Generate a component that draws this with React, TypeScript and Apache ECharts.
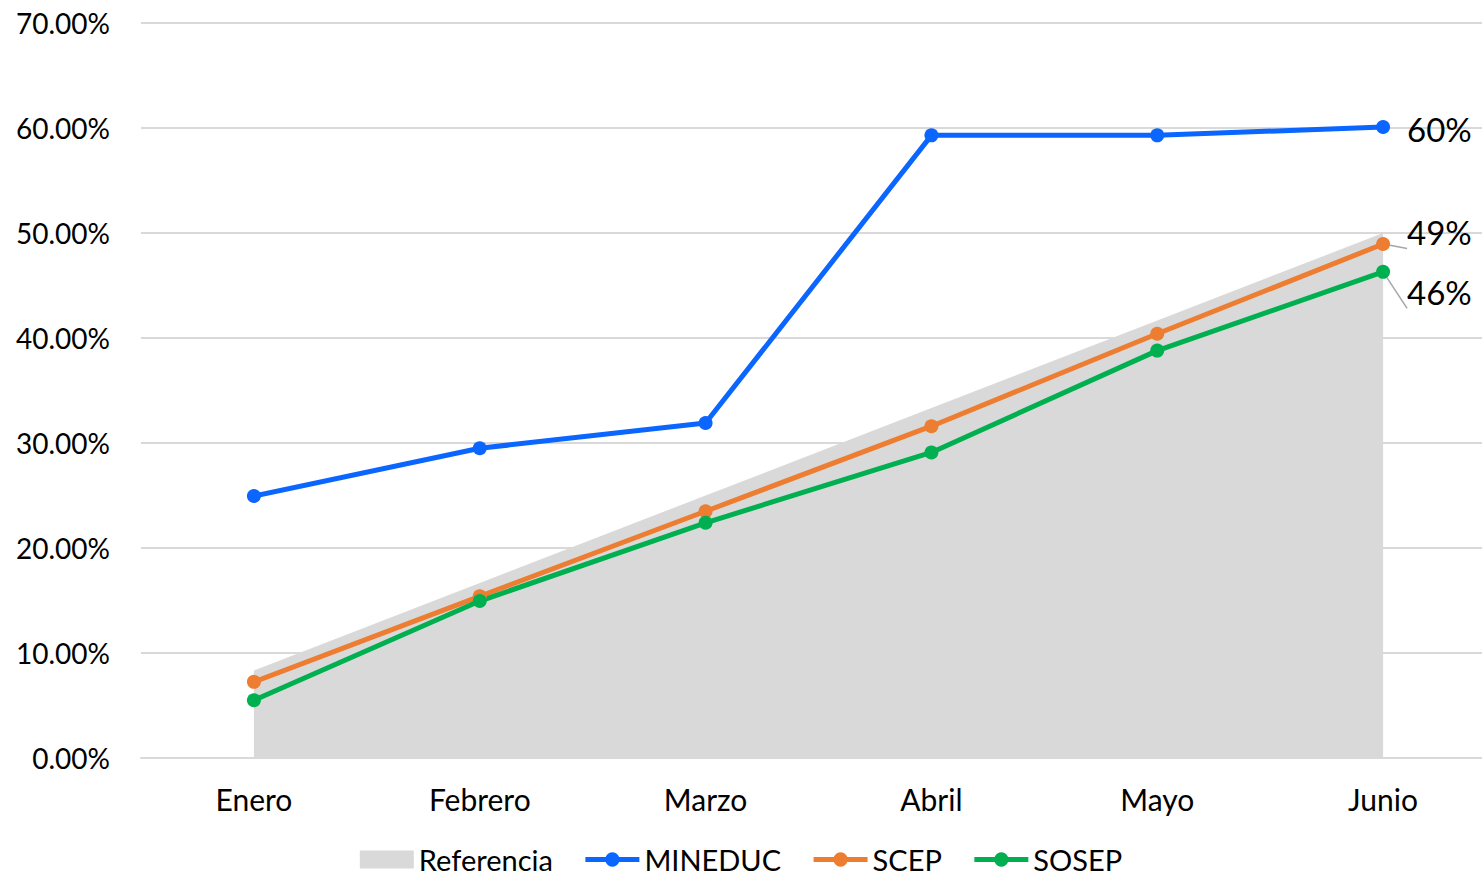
import React, { useEffect, useRef } from "react";
import * as echarts from "echarts";

const categories = ["Enero", "Febrero", "Marzo", "Abril", "Mayo", "Junio"];
const referencia = [8.33, 16.67, 25.0, 33.33, 41.67, 50.0];
const mineduc = [24.95, 29.5, 31.9, 59.3, 59.3, 60.1];
const scep = [7.25, 15.4, 23.5, 31.6, 40.4, 48.95];
const sosep = [5.5, 14.95, 22.4, 29.1, 38.8, 46.3];
const lastLabels = { mineduc: "60%", scep: "49%", sosep: "46%" };

const FONT = "Lato";

function withLastLabel(values: number[], text: string, dy: number) {
  return values.map((v, i) =>
    i === values.length - 1
      ? {
          value: v,
          label: {
            show: true,
            position: "right",
            distance: 17,
            formatter: text,
            fontSize: 33,
            fontFamily: FONT,
            color: "#000",
            offset: [0, dy],
          },
        }
      : v
  );
}

export default function App() {
  const ref = useRef<HTMLDivElement>(null);
  useEffect(() => {
    if (!ref.current) return;
    const chart = echarts.init(ref.current, null, { renderer: "svg" });
    const lineSeries = (name: string, color: string, data: any[]) => ({
      name,
      type: "line",
      data,
      symbol: "circle",
      symbolSize: 14,
      color,
      lineStyle: { width: 5, color },
      itemStyle: { color },
      z: 3,
    });
    chart.setOption({
      animation: false,
      grid: {
        left: 141,
        width: 1355,
        top: 23,
        bottom: 116,
        containLabel: false,
        outerBoundsMode: "none",
      },
      legend: {
        left: "center",
        top: 845,
        itemGap: 30,
        textStyle: { fontSize: 29, lineHeight: 29, fontFamily: FONT, color: "#000" },
        itemHeight: 18,
        itemWidth: 54,
        padding: 0,
        lineStyle: { width: 5 },
        data: [
          { name: "Referencia", icon: "rect", itemStyle: { color: "#D9D9D9" } },
          { name: "MINEDUC" },
          { name: "SCEP" },
          { name: "SOSEP" },
        ],
      },
      xAxis: {
        type: "category",
        data: categories,
        boundaryGap: true,
        axisLine: { show: true, lineStyle: { color: "#D9D9D9", width: 2 } },
        axisTick: { show: false },
        axisLabel: { fontSize: 30, fontFamily: FONT, color: "#000", margin: 26 },
      },
      yAxis: {
        type: "value",
        min: 0,
        max: 70,
        interval: 10,
        axisLine: { show: false },
        axisTick: { show: false },
        splitLine: { lineStyle: { color: "#D9D9D9", width: 2 } },
        axisLabel: {
          fontSize: 28,
          fontFamily: FONT,
          color: "#000",
          margin: 31,
          formatter: (v: number) => v.toFixed(2) + "%",
        },
      },
      series: [
        {
          name: "Referencia",
          type: "line",
          data: referencia,
          symbol: "none",
          color: "#D9D9D9",
          lineStyle: { width: 0 },
          areaStyle: { color: "#D9D9D9", opacity: 1 },
          z: 1,
        },
        lineSeries("MINEDUC", "#0A66FF", withLastLabel(mineduc, lastLabels.mineduc, 2)),
        {
          ...lineSeries("SCEP", "#ED7D31", withLastLabel(scep, lastLabels.scep, -12)),
          labelLine: { show: true, lineStyle: { color: "#A6A6A6", width: 1.5 } },
        },
        {
          ...lineSeries("SOSEP", "#00B050", withLastLabel(sosep, lastLabels.sosep, 20)),
          labelLine: { show: true, lineStyle: { color: "#A6A6A6", width: 1.5 } },
        },
      ],
    });
    return () => chart.dispose();
  }, []);
  return (
    <div
      ref={ref}
      style={{ position: "absolute", left: 0, top: 0, width: 1482, height: 874, background: "#fff" }}
    />
  );
}
